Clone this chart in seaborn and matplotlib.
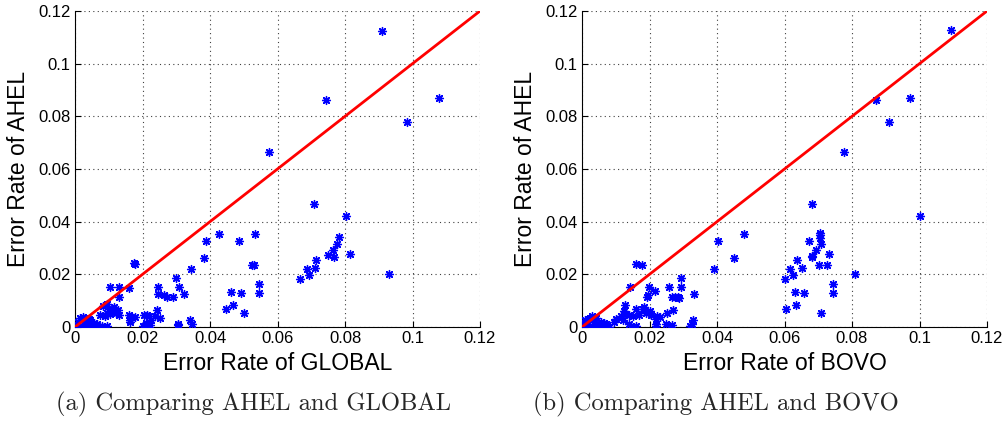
import numpy as np
import pandas as pd
import matplotlib
matplotlib.use("Agg")
import matplotlib.pyplot as plt
import seaborn as sns

# ---------------- data ----------------
global_x = [0.0910, 0.0745, 0.1079, 0.0983, 0.0576,
            0.0709, 0.0803, 0.0428, 0.0533, 0.0388, 0.0487,
            0.0783, 0.0776, 0.0765, 0.0749, 0.0768, 0.0814,
            0.0714, 0.0712, 0.0687, 0.0693, 0.0668, 0.0930,
            0.0382, 0.0344, 0.0523, 0.0530, 0.0545, 0.0545,
            0.0463, 0.0493, 0.0446, 0.0469, 0.0500,
            0.0299, 0.0307, 0.0323, 0.0289, 0.0272, 0.0265,
            0.0245, 0.0245, 0.0242, 0.0251, 0.0236,
            0.0178, 0.0176,
            0.0104, 0.0131, 0.0129, 0.0159,
            0.0160, 0.0162, 0.0168, 0.0178, 0.0164,
            0.0084, 0.0094, 0.0074, 0.0100, 0.0110, 0.0115, 0.0120, 0.0128, 0.0105, 0.0090, 0.0130, 0.0095,
            0.0203, 0.0213, 0.0220, 0.0210, 0.0222, 0.0200, 0.0225,
            0.0304, 0.0304, 0.0340, 0.0348,
            0.0005, 0.0010, 0.0020, 0.0030, 0.0015, 0.0025, 0.0040, 0.0050, 0.0060, 0.0070, 0.0080,
            0.0045, 0.0035, 0.0020, 0.0010, 0.0000, 0.0030, 0.0040, 0.0055, 0.0065, 0.0085, 0.0095]
ahel_a = [0.1125, 0.0861, 0.0868, 0.0779, 0.0666,
          0.0466, 0.0422, 0.0355, 0.0355, 0.0328, 0.0325,
          0.0342, 0.0316, 0.0291, 0.0272, 0.0266, 0.0276,
          0.0253, 0.0224, 0.0219, 0.0196, 0.0184, 0.0201,
          0.0263, 0.0220, 0.0236, 0.0236, 0.0162, 0.0130,
          0.0134, 0.0128, 0.0069, 0.0084, 0.0054,
          0.0185, 0.0153, 0.0124, 0.0115, 0.0115, 0.0121,
          0.0151, 0.0124, 0.0066, 0.0033, 0.0040,
          0.0238, 0.0242,
          0.0153, 0.0151, 0.0115, 0.0150,
          0.0046, 0.0027, 0.0038, 0.0038, 0.0020,
          0.0079, 0.0089, 0.0045, 0.0070, 0.0060, 0.0075, 0.0055, 0.0065, 0.0050, 0.0040, 0.0045, 0.0055,
          0.0045, 0.0046, 0.0040, 0.0015, 0.0008, 0.0005, 0.0025,
          0.0006, 0.0010, 0.0025, 0.0010,
          0.0005, 0.0020, 0.0030, 0.0020, 0.0035, 0.0038, 0.0010, 0.0005, 0.0002, 0.0001, 0.0003,
          0.0025, 0.0005, 0.0000, 0.0000, 0.0000, 0.0035, 0.0030, 0.0015, 0.0010, 0.0000, 0.0005]

bovo_x = [0.1093, 0.0872, 0.0972, 0.0909, 0.0777,
          0.1000, 0.0682, 0.0479, 0.0403, 0.0390, 0.0450, 0.0809,
          0.0706, 0.0706, 0.0706, 0.0674, 0.0707, 0.0694, 0.0680, 0.0682, 0.0732,
          0.0636, 0.0651, 0.0615, 0.0625, 0.0600, 0.0702, 0.0726, 0.0743, 0.0743,
          0.0630, 0.0657, 0.0604, 0.0634, 0.0707,
          0.0292, 0.0292, 0.0331, 0.0285, 0.0287, 0.0275, 0.0268, 0.0258, 0.0269, 0.0252, 0.0232,
          0.0161, 0.0178, 0.0141, 0.0198, 0.0196, 0.0193, 0.0215, 0.0128,
          0.0160, 0.0180, 0.0183, 0.0125, 0.0130, 0.0140, 0.0115, 0.0150, 0.0170, 0.0190,
          0.0100, 0.0095, 0.0120, 0.0140, 0.0150, 0.0160, 0.0200, 0.0205,
          0.0218, 0.0218, 0.0222, 0.0218,
          0.0250, 0.0268, 0.0325, 0.0330, 0.0320,
          0.0000, 0.0010, 0.0020, 0.0030, 0.0025, 0.0040, 0.0035, 0.0050, 0.0060, 0.0070,
          0.0075, 0.0080, 0.0010, 0.0045, 0.0055, 0.0065, 0.0020, 0.0030]
ahel_b = [0.1127, 0.0863, 0.0869, 0.0779, 0.0666,
          0.0422, 0.0466, 0.0355, 0.0328, 0.0220, 0.0263, 0.0201,
          0.0358, 0.0348, 0.0339, 0.0326, 0.0316, 0.0291, 0.0271, 0.0266, 0.0276,
          0.0253, 0.0224, 0.0219, 0.0196, 0.0184, 0.0234, 0.0236, 0.0162, 0.0130,
          0.0134, 0.0128, 0.0069, 0.0084, 0.0054,
          0.0185, 0.0153, 0.0124, 0.0115, 0.0110, 0.0115, 0.0115, 0.0151, 0.0066, 0.0054, 0.0038,
          0.0240, 0.0235, 0.0153, 0.0151, 0.0121, 0.0115, 0.0138, 0.0083,
          0.0070, 0.0070, 0.0075, 0.0060, 0.0050, 0.0045, 0.0040, 0.0040, 0.0045, 0.0055,
          0.0030, 0.0020, 0.0025, 0.0010, 0.0000, 0.0005, 0.0060, 0.0045,
          0.0010, 0.0030, 0.0040, 0.0003,
          0.0010, 0.0008, 0.0010, 0.0025, 0.0002,
          0.0000, 0.0010, 0.0030, 0.0040, 0.0035, 0.0035, 0.0020, 0.0010, 0.0003, 0.0010,
          0.0005, 0.0000, 0.0025, 0.0005, 0.0020, 0.0015, 0.0000, 0.0005]

diag = [0.0, 0.12]
tick_vals = [0, 0.02, 0.04, 0.06, 0.08, 0.1, 0.12]
tick_labels = ["0", "0.02", "0.04", "0.06", "0.08", "0.1", "0.12"]
x_labels = ["Error Rate of GLOBAL", "Error Rate of BOVO"]
y_label = "Error Rate of AHEL"
captions = ["(a) Comparing AHEL and GLOBAL", "(b) Comparing AHEL and BOVO"]

# ---------------- style ----------------
sns.set_theme(style="white")
plt.rcParams["font.family"] = ["Liberation Sans", "DejaVu Sans"]

fig = plt.figure(figsize=(10.08, 4.24), dpi=100)
ax_a = fig.add_axes([75 / 1008, 97 / 424, 405 / 1008, 316 / 424])
ax_b = fig.add_axes([582 / 1008, 97 / 424, 405 / 1008, 316 / 424])

panels = [(ax_a, global_x, ahel_a, x_labels[0]), (ax_b, bovo_x, ahel_b, x_labels[1])]
asterisk = (8, 2, 0)
for ax, xs, ys, xl in panels:
    df = pd.DataFrame({"x": xs, "y": ys})
    sns.scatterplot(data=df, x="x", y="y", ax=ax, marker=asterisk, s=32,
                    color="#0000ff", edgecolor="#0000ff", linewidth=1.0, zorder=3)
    ddf = pd.DataFrame({"x": diag, "y": diag})
    sns.lineplot(data=ddf, x="x", y="y", ax=ax, color="#ff0000", linewidth=2.0, zorder=4)
    ax.set_xlim(0, 0.12)
    ax.set_ylim(0, 0.12)
    ax.set_xticks(tick_vals)
    ax.set_xticklabels(tick_labels)
    ax.set_yticks(tick_vals)
    ax.set_yticklabels(tick_labels)
    ax.grid(True, linestyle=(0, (1, 3)), color="#404040", linewidth=0.8)
    ax.set_axisbelow(True)
    for side in ["top", "right"]:
        ax.spines[side].set_visible(False)
    for side in ["left", "bottom"]:
        ax.spines[side].set_color("black")
        ax.spines[side].set_linewidth(0.8)
    ax.tick_params(axis="both", direction="in", length=4, width=0.8, colors="black",
                   labelsize=12, pad=3, left=True, bottom=True)
    ax.set_xlabel(xl, fontsize=16.5, color="black", labelpad=4)
    ax.set_ylabel(y_label, fontsize=16.5, color="black", labelpad=6)
    ax.set_facecolor("white")

fig.text(253 / 1008, 1 - 404 / 424, captions[0], ha="center", va="center",
         fontsize=17.7, family="cmr10")
fig.text(716 / 1008, 1 - 404 / 424, captions[1], ha="center", va="center",
         fontsize=17.7, family="cmr10")

fig.savefig("out.png", dpi=100, facecolor="white")
